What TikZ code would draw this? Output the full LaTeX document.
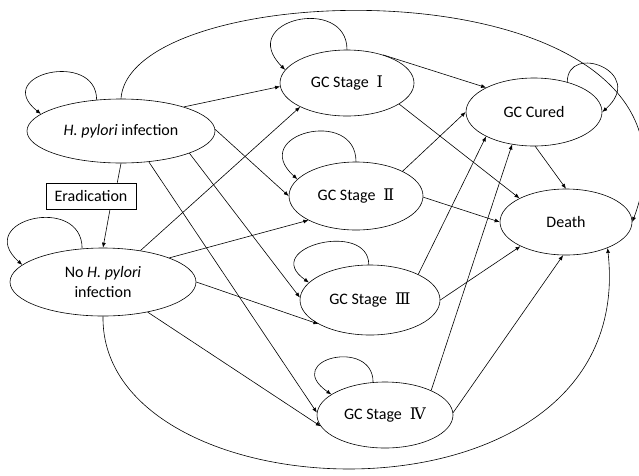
\documentclass[tikz,border=0pt]{standalone}
\usepackage{fontspec}
\setmainfont{Carlito}
\newfontfamily\romfont{DejaVu Serif}
\usetikzlibrary{shapes.geometric,arrows.meta,calc}
\newcommand*{\stage}[1]{GC Stage\hspace{0.5em}{\romfont #1}}

\begin{document}
\begin{tikzpicture}[x=1pt, y=-1pt, line width=0.6pt,
    >={Latex[length=5pt,width=4pt]},
    font=\fontsize{16}{19.5}\selectfont]
  \useasboundingbox (0,0) rectangle (639,475);
  {\tikzstyle{every node}=[ellipse, draw, inner sep=0pt, align=center]
    \node[minimum width=188pt, minimum height=64pt] (hp) at (121,131) {\textit{H. pylori} infection};
    \node[minimum width=186pt, minimum height=68pt] (nohp) at (103,282) {No \textit{H. pylori}\\infection};
    \node[minimum width=136pt, minimum height=68pt] (cured) at (534,112) {GC Cured};
    \node[minimum width=132pt, minimum height=66pt] (death) at (566,222) {Death};

    \foreach \i/\x/\y/\w/\h/\n in {1/347/83/134/66/Ⅰ, 2/356/196/134/68/Ⅱ,
                                   3/370/300/140/70/Ⅲ, 4/385/415/136/66/Ⅳ}
    {
      \node[minimum width=\w pt, minimum height=\h pt] (gc\i) at (\x,\y) {\stage{\n}};
    }
  }
  \node[draw, minimum width=90pt, minimum height=26pt, inner sep=0pt] (erad) at (91,196) {Eradication};

  % transitions
  \foreach \a/\b in {hp.21/gc1.183, hp.1/gc2.180, hp.-18/gc3.178, hp.-48/gc4.178,
                     nohp.40/gc1.207, nohp.20/gc2.207, nohp.0/gc3.205, nohp.-34/gc4.190,
                     gc1.38/cured.153, gc2.28/cured.180, gc3.28/cured.207, gc4.28/cured.236,
                     gc1.-22/death.153, gc2.-1/death.180, gc3.0/death.208, gc4.2/death.265,
                     cured.272/death.90}
  {
    \draw [->] (\a) -- (\b);
  }

  \draw (hp.270) -- ($(erad.north)!.58!(erad.north east)$);
  \draw [->] ($(erad.south)!.42!(erad.south east)$) -- (nohp.90);

  % staying in the same state
  \draw [->] (hp.128) .. controls +(0,-50) and +(-50,-40) .. (hp.168);
  \draw [->] (nohp.122) .. controls +(0,-55) and +(-50,-45) .. (nohp.168);
  \draw [->] (gc1.90) .. controls +(0,-55) and +(-50,-50) .. (gc1.168);
  \draw [->] (gc2.90) .. controls +(0,-55) and +(-50,-45) .. (gc2.164);
  \draw [->] (gc3.92) .. controls +(0,-45) and +(-50,-35) .. (gc3.164);
  \draw [->] (gc4.110) .. controls +(0,-45) and +(-50,-35) .. (gc4.159);
  \draw [->] (cured.42) .. controls +(0,-40) and +(45,-40) .. (cured.0);

  % background mortality
  \draw [->] (hp.90) .. controls (130,-30) and (730,-40) .. (death.0);
  \draw [->] (nohp.270) .. controls (100,520) and (640,540) .. (death.328);
\end{tikzpicture}
\end{document}
